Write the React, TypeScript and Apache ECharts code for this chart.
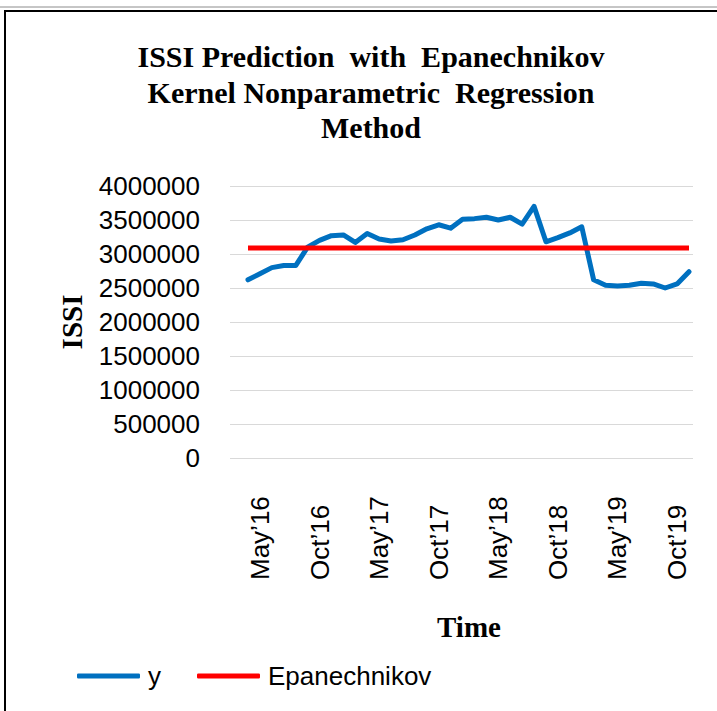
import React, { useEffect, useRef } from "react";
import * as echarts from "echarts";

const categories: string[] = [
  "", "May’16", "", "", "", "", "Oct’16", "", "", "", "",
  "May’17", "", "", "", "", "Oct’17", "", "", "", "",
  "May’18", "", "", "", "", "Oct’18", "", "", "", "",
  "May’19", "", "", "", "", "Oct’19", "",
];

const ySeries: number[] = [
  2620000, 2710000, 2800000, 2830000, 2830000, 3100000, 3200000, 3270000,
  3280000, 3170000, 3300000, 3220000, 3190000, 3210000, 3280000, 3370000,
  3430000, 3380000, 3510000, 3520000, 3540000, 3500000, 3540000, 3440000,
  3700000, 3180000, 3240000, 3310000, 3400000, 2620000, 2540000, 2530000,
  2540000, 2570000, 2560000, 2500000, 2560000, 2740000,
];

const epanechnikov: number[] = [
  3090000, 3090000, 3090000, 3090000, 3090000, 3090000, 3090000, 3090000,
  3090000, 3090000, 3090000, 3090000, 3090000, 3090000, 3090000, 3090000,
  3090000, 3090000, 3090000, 3090000, 3090000, 3090000, 3090000, 3090000,
  3090000, 3090000, 3090000, 3090000, 3090000, 3090000, 3090000, 3090000,
  3090000, 3090000, 3090000, 3090000, 3090000, 3090000,
];

const yMin = 0;
const yMax = 4000000;
const yInterval = 500000;

const titleText = "ISSI Prediction  with  Epanechnikov\nKernel Nonparametric  Regression\nMethod";

export default function App() {
  const ref = useRef<HTMLDivElement>(null);
  useEffect(() => {
    document.body.style.margin = "0";
    if (!ref.current) return;
    const chart = echarts.init(ref.current, null, { renderer: "svg" });
    const sans = "'Liberation Sans', Arial, sans-serif";
    const serif = "'Liberation Serif', 'Times New Roman', serif";
    chart.setOption({
      animation: false,
      backgroundColor: "#ffffff",
      grid: [
        { left: 230, right: 24, top: 186, bottom: 253 },
        { left: 248, right: 28, top: 186, bottom: 253 },
      ],
      xAxis: [
        { type: "value", gridIndex: 0, show: false, min: 0, max: 1 },
        {
          type: "category",
          gridIndex: 1,
          data: categories,
          boundaryGap: false,
          axisLine: { show: false },
          axisTick: { show: false },
          splitLine: { show: false },
          axisLabel: {
            interval: 0,
            rotate: 90,
            align: "left",
            verticalAlign: "middle",
            margin: 122,
            fontFamily: sans,
            fontSize: 26,
            color: "#000000",
          },
        },
      ],
      yAxis: [
        {
          type: "value",
          gridIndex: 0,
          min: yMin,
          max: yMax,
          interval: yInterval,
          axisLine: { show: false },
          axisTick: { show: false },
          splitLine: { show: true, lineStyle: { color: "#d9d9d9", width: 1 } },
          axisLabel: {
            margin: 30,
            fontFamily: sans,
            fontSize: 26,
            color: "#000000",
            formatter: (v: number) => String(v),
          },
        },
        {
          type: "value",
          gridIndex: 1,
          min: yMin,
          max: yMax,
          interval: yInterval,
          show: false,
          splitLine: { show: false },
        },
      ],
      legend: {
        left: 77,
        top: 662,
        padding: 0,
        icon: "roundRect",
        itemWidth: 63,
        itemHeight: 5,
        itemGap: 36,
        textStyle: { fontFamily: sans, fontSize: 26, color: "#000000", lineHeight: 28, padding: [0, 0, 0, 3] },
        data: ["y", "Epanechnikov"],
      },
      series: [
        {
          name: "y",
          type: "line",
          xAxisIndex: 1,
          yAxisIndex: 1,
          data: ySeries,
          symbol: "none",
          showSymbol: false,
          lineStyle: { color: "#0070c0", width: 5, cap: "round", join: "round" },
          itemStyle: { color: "#0070c0" },
        },
        {
          name: "Epanechnikov",
          type: "line",
          xAxisIndex: 1,
          yAxisIndex: 1,
          data: epanechnikov,
          symbol: "none",
          showSymbol: false,
          lineStyle: { color: "#ff0000", width: 5 },
          itemStyle: { color: "#ff0000" },
        },
      ],
      graphic: [
        {
          type: "line",
          shape: { x1: 0, y1: 7, x2: 717, y2: 7 },
          style: { stroke: "#8c8c8c", lineWidth: 1 },
          silent: true,
        },
        {
          type: "rect",
          shape: { x: 5, y: 11, width: 800, height: 800 },
          style: { fill: "none", stroke: "#000000", lineWidth: 2 },
          silent: true,
        },
        {
          type: "text",
          x: 371,
          y: 39,
          style: {
            text: titleText,
            font: `bold 30px ${serif}`,
            fill: "#000000",
            textAlign: "center",
            textVerticalAlign: "top",
            lineHeight: 35.5,
          },
        },
        {
          type: "text",
          x: 72,
          y: 322,
          rotation: Math.PI / 2,
          style: {
            text: "ISSI",
            font: `bold 29px ${serif}`,
            fill: "#000000",
            textAlign: "center",
            textVerticalAlign: "middle",
          },
        },
        {
          type: "text",
          x: 469,
          y: 627,
          style: {
            text: "Time",
            font: `bold 29px ${serif}`,
            fill: "#000000",
            textAlign: "center",
            textVerticalAlign: "middle",
          },
        },
      ],
    });
    return () => chart.dispose();
  }, []);
  return <div ref={ref} style={{ width: 717, height: 711 }} />;
}
